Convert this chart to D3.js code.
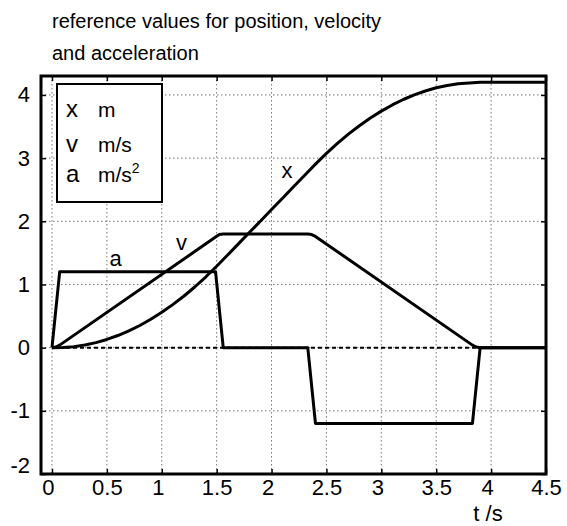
<!DOCTYPE html>
<html>
<head>
<meta charset="utf-8">
<script src="https://cdn.jsdelivr.net/npm/d3@7"></script>
<style>
  body { margin: 0; background: #fff; }
  text { font-family: "Liberation Sans", Arial, sans-serif; fill: #000; }
</style>
</head>
<body>
<svg id="chart" width="567" height="526"></svg>
<script>
// ---- data ----
const titleLines = ["reference values for position, velocity", "and acceleration"];
const xTicks = [0, 0.5, 1, 1.5, 2, 2.5, 3, 3.5, 4, 4.5];
const xTickLabels = ["0", "0.5", "1", "1.5", "2", "2.5", "3", "3.5", "4", "4.5"];
const yTicks = [-2, -1, 0, 1, 2, 3, 4];
const yTickLabels = ["-2", "-1", "0", "1", "2", "3", "4"];

// acceleration a (m/s^2)
const aT = [0, 0.07, 1.49, 1.56, 2.33, 2.40, 3.83, 3.90, 4.5];
const aV = [0, 1.2, 1.2, 0, 0, -1.2, -1.2, 0, 0];

// velocity v (m/s)
const vT = [0, 0.035, 0.07, 1.49, 1.525, 1.56, 2.33, 2.365, 2.40, 3.83, 3.865, 3.90, 4.5];
const vV = [0, 0.01, 0.04, 1.75, 1.79, 1.8, 1.8, 1.79, 1.76, 0.04, 0.01, 0, 0];

// position x (m)
const xT = [0, 0.1, 0.2, 0.3, 0.4, 0.5, 0.6, 0.7, 0.8, 0.9, 1.0, 1.1, 1.2, 1.3, 1.4, 1.5,
            1.6, 1.7, 1.8, 1.9, 2.0, 2.1, 2.2, 2.3, 2.4, 2.5, 2.6, 2.7, 2.8, 2.9, 3.0,
            3.1, 3.2, 3.3, 3.4, 3.5, 3.6, 3.7, 3.8, 3.9, 4.0, 4.5];
const xV = [0, 0.003, 0.016, 0.042, 0.080, 0.130, 0.192, 0.265, 0.351, 0.449, 0.559, 0.681,
            0.814, 0.960, 1.118, 1.288, 1.466, 1.646, 1.826, 2.006, 2.186, 2.366, 2.546, 2.726,
            2.905, 3.075, 3.233, 3.379, 3.513, 3.634, 3.744, 3.842, 3.928, 4.001, 4.063, 4.113,
            4.151, 4.177, 4.191, 4.200, 4.200, 4.200];

const legendSymbols = ["x", "v", "a"];
const legendUnits = ["m", "m/s", "m/s"];

// ---- layout ----
const svg = d3.select("#chart");
const W = 567, H = 526;
const m = { left: 41, top: 76, right: 21, bottom: 52 };
const pw = W - m.left - m.right, ph = H - m.top - m.bottom;

const x = d3.scaleLinear().domain([-0.1, 4.5]).range([m.left, m.left + pw]);
const y = d3.scaleLinear().domain([-2, 4.3]).range([m.top + ph, m.top]);

// title
svg.append("g").selectAll("text").data(titleLines).join("text")
  .attr("x", 52).attr("y", (d, i) => 28 + i * 32)
  .attr("font-size", 20).text(d => d);

// grid
const grid = svg.append("g").attr("stroke", "#777").attr("stroke-width", 1)
  .attr("stroke-dasharray", "1.5,2.5");
grid.selectAll(".gx").data(xTicks.filter(t => t < 4.5)).join("line")
  .attr("x1", d => x(d)).attr("x2", d => x(d))
  .attr("y1", m.top).attr("y2", m.top + ph);
grid.selectAll(".gy").data(yTicks.filter(t => t > -2)).join("line")
  .attr("y1", d => y(d)).attr("y2", d => y(d))
  .attr("x1", m.left).attr("x2", m.left + pw);

// dashed zero line
svg.append("line")
  .attr("x1", x(0)).attr("x2", x(4.5)).attr("y1", y(0)).attr("y2", y(0))
  .attr("stroke", "#000").attr("stroke-width", 2).attr("stroke-dasharray", "4,3");

// axes with inward ticks
const xAxisB = d3.axisBottom(x).tickValues(xTicks).tickSize(-5).tickFormat((d, i) => xTickLabels[i]).tickPadding(9);
const xAxisT = d3.axisTop(x).tickValues(xTicks).tickSize(-5).tickFormat("");
const yAxisL = d3.axisLeft(y).tickValues(yTicks).tickSize(-5).tickFormat((d, i) => yTickLabels[i]).tickPadding(11);
const yAxisR = d3.axisRight(y).tickValues(yTicks).tickSize(-5).tickFormat("");

function styleAxis(g) {
  g.select(".domain").remove();
  g.selectAll(".tick line").attr("stroke", "#000").attr("stroke-width", 1.5);
  g.selectAll(".tick text").attr("font-size", 22).attr("font-family", "Liberation Sans, Arial, sans-serif").attr("fill", "#000");
}
svg.append("g").attr("transform", `translate(0,${m.top + ph})`).call(xAxisB).call(styleAxis)
  .selectAll(".tick text").attr("dy", "0.55em")
  .attr("dx", (d, i) => xTickLabels[i].length === 1 ? -4 : 0);
svg.append("g").attr("transform", `translate(0,${m.top})`).call(xAxisT).call(styleAxis);
svg.append("g").attr("transform", `translate(${m.left},0)`).call(yAxisL).call(styleAxis)
  .selectAll(".tick text").attr("dy", (d) => d === -2 ? "-0.05em" : "0.32em");
svg.append("g").attr("transform", `translate(${m.left + pw},0)`).call(yAxisR).call(styleAxis);

// curves
const line = d3.line().x(d => x(d[0])).y(d => y(d[1]));
const curves = [
  d3.zip(aT, aV),
  d3.zip(vT, vV),
  d3.zip(xT, xV)
];
svg.append("g").selectAll("path").data(curves).join("path")
  .attr("d", d => line(d)).attr("fill", "none")
  .attr("stroke", "#000").attr("stroke-width", 3).attr("stroke-linejoin", "round");

// frame
svg.append("rect").attr("x", m.left).attr("y", m.top).attr("width", pw).attr("height", ph)
  .attr("fill", "none").attr("stroke", "#000").attr("stroke-width", 3);

// curve labels
const curveLabels = [
  { s: "x", t: 2.14, v: 2.69 },
  { s: "v", t: 1.18, v: 1.54 },
  { s: "a", t: 0.58, v: 1.29 }
];
svg.append("g").selectAll("text").data(curveLabels).join("text")
  .attr("x", d => x(d.t)).attr("y", d => y(d.v))
  .attr("text-anchor", "middle").attr("font-size", 22).text(d => d.s);

// legend
const lg = svg.append("g");
lg.append("rect").attr("x", 57).attr("y", 84).attr("width", 105).attr("height", 118)
  .attr("fill", "#fff").attr("stroke", "#000").attr("stroke-width", 2);
const legendBase = [117, 152, 182];
legendSymbols.forEach((s, i) => {
  const by = legendBase[i];
  lg.append("text").attr("x", 66).attr("y", by).attr("font-size", 24).text(s);
  const t = lg.append("text").attr("x", 98).attr("y", by).attr("font-size", 21);
  t.append("tspan").text(legendUnits[i]);
  if (i === 2) t.append("tspan").attr("font-size", 14).attr("dy", -9).text("2");
});

// axis label
svg.append("text").attr("x", 488).attr("y", 521).attr("text-anchor", "middle")
  .attr("font-size", 22).text("t /s");
</script>
</body>
</html>
